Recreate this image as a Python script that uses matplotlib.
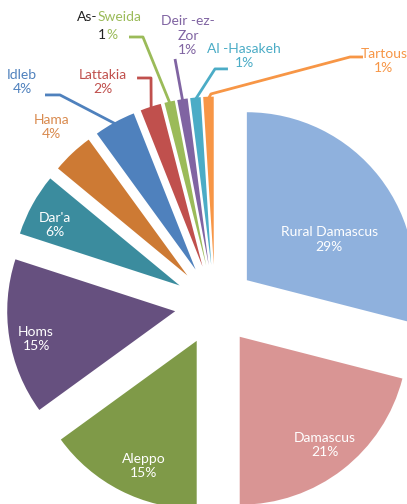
import numpy as np
import matplotlib.pyplot as plt

plt.rcParams['font.family'] = ['Lato', 'DejaVu Sans']

# data
regions = ['Rural Damascus', 'Damascus', 'Aleppo', 'Homs', "Dar'a", 'Hama',
           'Idleb', 'Lattakia', 'As-Sweida', 'Deir -ez-\nZor', 'Al -Hasakeh', 'Tartous']
shares = [29, 21, 15, 15, 6, 4, 4, 2, 1, 1, 1, 1]

colors = ['#8FB1DD', '#D99594', '#7F9A48', '#66507F', '#3B8C9E', '#CD7A34',
          '#4F81BD', '#C0504D', '#9BBB59', '#8064A2', '#4BACC6', '#F79646']
text_colors = ['white'] * 5 + ['#D98A4E', '#4F81BD', '#C0504D', '#9BBB59',
                               '#8064A2', '#4BACC6', '#F79646']

# label centres (data units, pie radius = 1)
label_pos = [(0.68, 0.39), (0.655, -0.833), (-0.423, -0.958), (-1.065, -0.202),
             (-0.952, 0.476), (-0.976, 1.060), (-1.149, 1.327), (-0.667, 1.327),
             None, (-0.161, 1.601), (0.173, 1.482), (1.005, 1.452)]

# leader line points from the label side (the wedge end is added below)
leaders = {
    6: [(-1.012, 1.250), (-0.923, 1.250)],
    7: [(-0.464, 1.351), (-0.381, 1.351)],
    8: [(-0.512, 1.595), (-0.429, 1.595)],
    9: [(-0.238, 1.464)],
    10: [(0.077, 1.405), (0.000, 1.405)],
    11: [(0.881, 1.476), (0.804, 1.476), (-0.024, 1.256)],
}

fig = plt.figure(figsize=(4.07, 5.04), dpi=100)
ax = fig.add_axes([0, 0, 1, 1])
wedges, _ = ax.pie(shares, colors=colors, startangle=90, counterclock=False,
                   explode=[0.24] * len(shares), radius=1,
                   wedgeprops=dict(linewidth=0))
ax.set_xlim(-1.280, 1.143)
ax.set_ylim(-1.185, 1.815)
ax.set_aspect('equal')
ax.axis('off')

for i, (name, val) in enumerate(zip(regions, shares)):
    if label_pos[i] is None:
        continue
    x, y = label_pos[i]
    ax.text(x, y, f'{name}\n{val}%', ha='center', va='center', fontsize=10,
            color=text_colors[i], linespacing=1.25)

# As-Sweida label is drawn in two colours
sx, sy = -0.702, 1.661
ax.text(sx, sy + 0.055, 'As-', ha='right', va='center', fontsize=10, color='#222222')
ax.text(sx, sy + 0.055, 'Sweida', ha='left', va='center', fontsize=10, color=text_colors[8])
ax.text(sx + 0.053, sy - 0.055, '1', ha='right', va='center', fontsize=10, color='#222222')
ax.text(sx + 0.053, sy - 0.055, '%', ha='left', va='center', fontsize=10, color=text_colors[8])

for i, pts in leaders.items():
    w = wedges[i]
    mid = np.deg2rad((w.theta1 + w.theta2) / 2)
    cx, cy = w.center
    tip = (cx + 0.99 * w.r * np.cos(mid), cy + 0.99 * w.r * np.sin(mid))
    xs = [p[0] for p in pts] + [tip[0]]
    ys = [p[1] for p in pts] + [tip[1]]
    ax.plot(xs, ys, color=colors[i], linewidth=2, solid_capstyle='butt')

fig.savefig('out.png', dpi=100)
